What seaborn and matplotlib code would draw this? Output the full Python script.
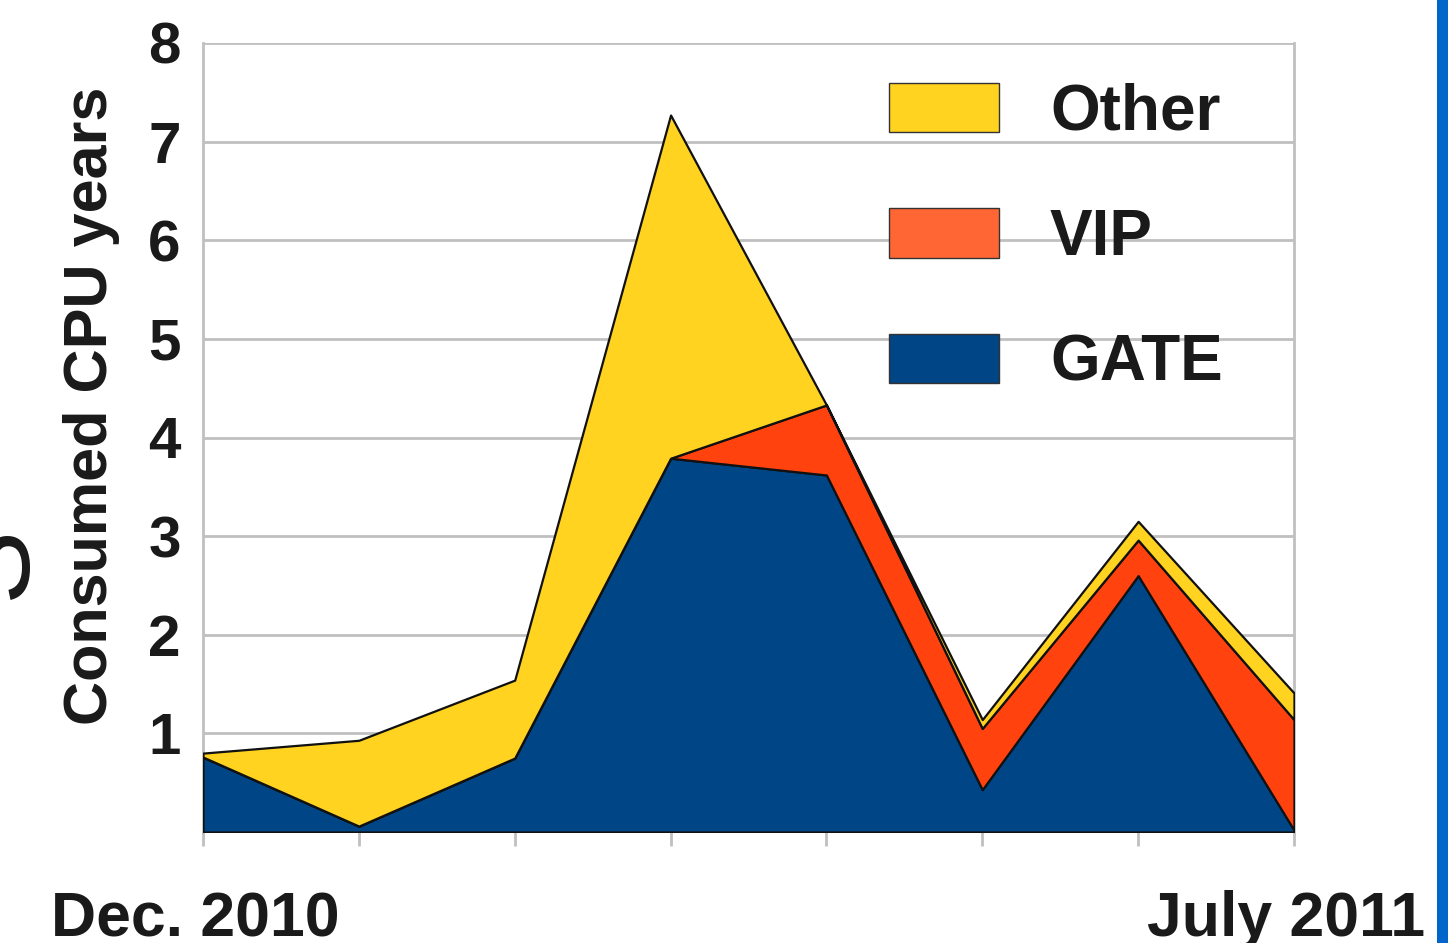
import matplotlib
matplotlib.use("Agg")
import matplotlib.pyplot as plt
import matplotlib.transforms as mtransforms
import seaborn as sns
import numpy as np
from matplotlib.patches import Patch, Rectangle

months = ["Dec. 2010", "Jan. 2011", "Feb. 2011", "Mar. 2011", "Apr. 2011", "May 2011", "June 2011", "July 2011"]
tick_labels = ["Dec. 2010", "", "", "", "", "", "", "July 2011"]
gate = [0.76, 0.06, 0.75, 3.79, 3.62, 0.43, 2.60, 0.02]
vip = [0.00, 0.00, 0.00, 0.00, 0.71, 0.62, 0.36, 1.12]
other = [0.04, 0.87, 0.79, 3.48, 0.00, 0.09, 0.19, 0.27]
series_names = ["GATE", "VIP", "Other"]
colors = ["#004586", "#FF420E", "#FFD320"]
legend_colors = {"Other": "#FFD320", "VIP": "#FF6633", "GATE": "#004586"}

sns.set_style("white")
plt.rcParams["font.family"] = ["Liberation Sans", "DejaVu Sans"]
plt.rcParams["font.weight"] = "bold"

fig = plt.figure(figsize=(14.48, 9.43), dpi=100)
ax = fig.add_axes([203/1448, 1-832/943, (1294-203)/1448, (832-43)/943])

x = np.arange(len(months))
ax.stackplot(x, gate, vip, other, colors=colors, edgecolor="#111111", linewidth=1.6, zorder=3)

ax.set_xlim(0, len(months)-1)
ax.set_ylim(0, 8)
ax.set_yticks(range(0, 9))
ax.set_yticklabels([""] + [str(i) for i in range(1, 9)])
ax.set_xticks(x)
ax.set_xticklabels(tick_labels)
ax.grid(axis="y", color="#c0c0c0", linewidth=2, zorder=0)
ax.grid(axis="x", visible=False)
for side in ["top", "bottom"]:
    ax.spines[side].set_visible(False)
for side in ["left", "right"]:
    ax.spines[side].set_color("#c0c0c0")
    ax.spines[side].set_linewidth(2)
ax.tick_params(axis="y", length=10, width=2, color="#c0c0c0", labelsize=42, pad=6)
ax.tick_params(axis="x", length=10, width=2, color="#c0c0c0", labelsize=45, pad=32, bottom=True)
shift = mtransforms.ScaledTranslation(-8/100, 0, fig.dpi_scale_trans)
for lab in ax.get_xticklabels():
    lab.set_transform(lab.get_transform() + shift)
for lab in ax.get_yticklabels() + ax.get_xticklabels():
    lab.set_fontweight("bold")
    lab.set_color("#1a1a1a")
ax.set_ylabel("Consumed CPU years", fontsize=44, fontweight="bold", color="#1a1a1a")
ax.yaxis.label.set_va("center")
ax.yaxis.set_label_coords((92-203)/1091, (832-406)/789)

handles = [Patch(facecolor=legend_colors[n], edgecolor="#333333", linewidth=1) for n in ["Other", "VIP", "GATE"]]
leg = ax.legend(handles, ["Other", "VIP", "GATE"], loc="upper left",
                bbox_to_anchor=(889/1448, 1-83/943), bbox_transform=fig.transFigure,
                frameon=False, fontsize=46, handlelength=1.72, handleheight=0.81,
                handletextpad=0.8, labelspacing=1.02, borderpad=0, borderaxespad=0)
for t in leg.get_texts():
    t.set_fontweight("bold")
    t.set_color("#1a1a1a")

fig.text(-0.0028, 0.404, "S", rotation=90, fontsize=80, fontweight="normal", color="#1a1a1a",
         ha="center", va="center", family=["Liberation Sans", "DejaVu Sans"])
fig.patches.append(Rectangle((1437/1448, 0), 11/1448, 1, transform=fig.transFigure,
                             facecolor="#0066CC", edgecolor="none"))

fig.savefig("out.png", dpi=100)
